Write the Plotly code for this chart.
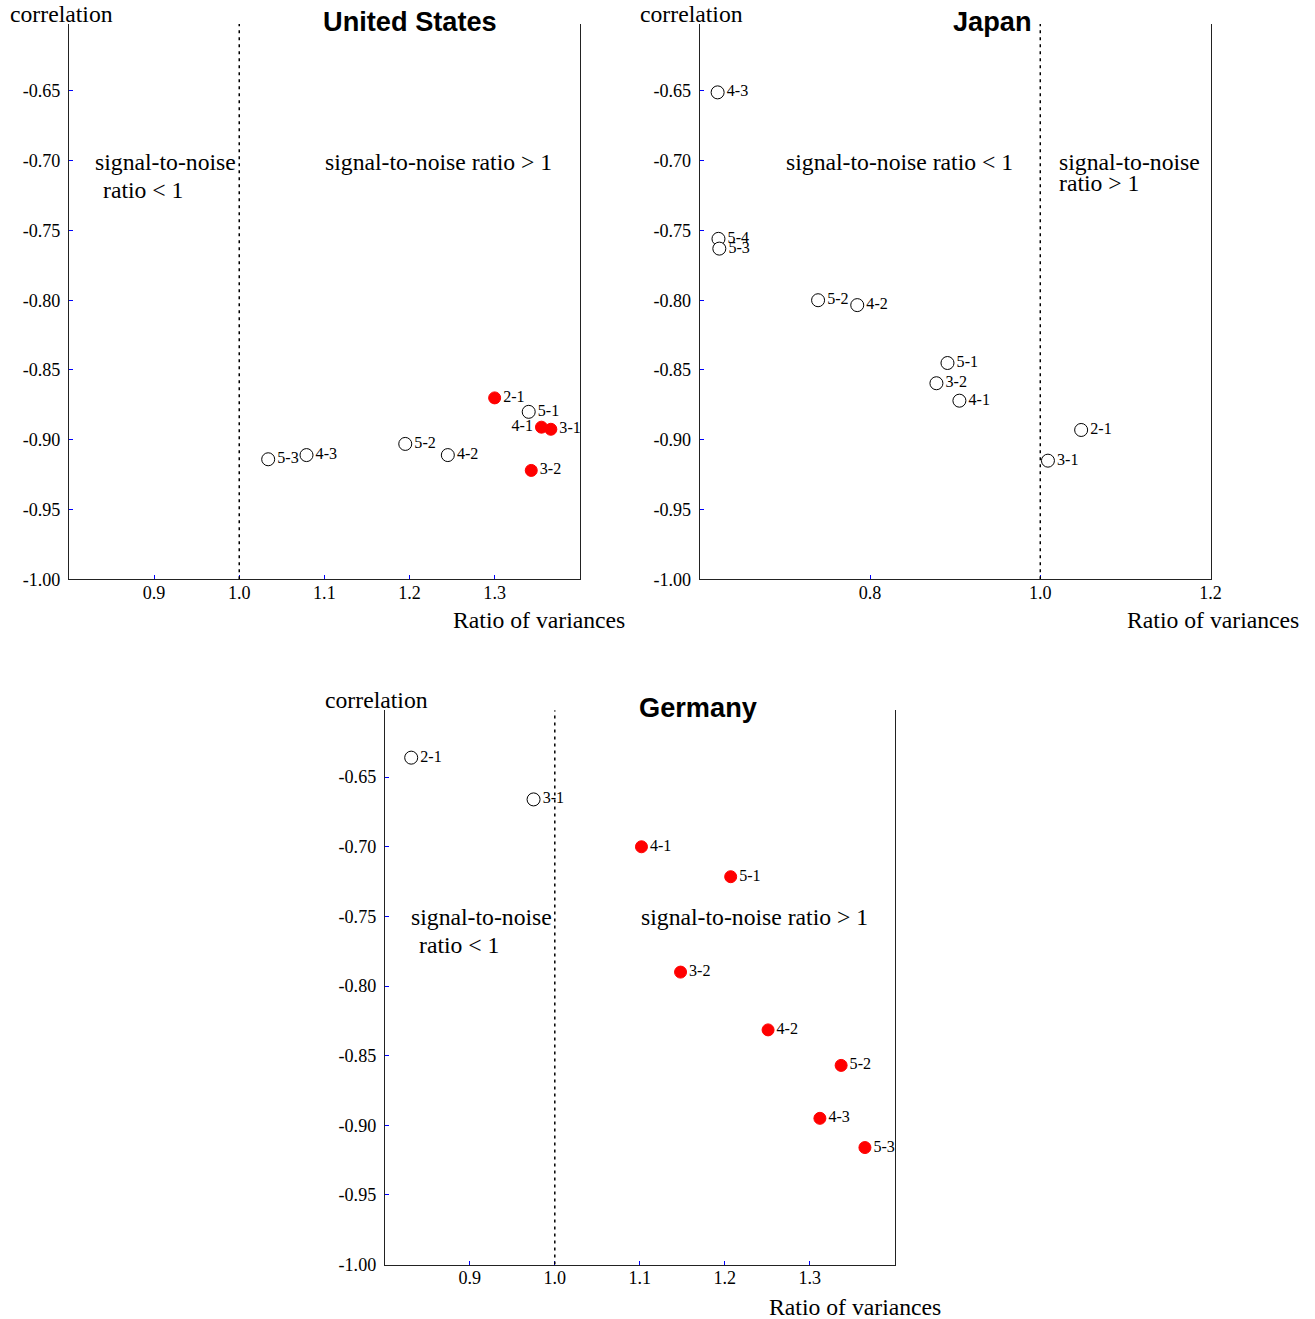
import plotly.graph_objects as go

W, H = 1315, 1319
K = 1 / 0.992  # compensates the slight shrink seen in the photographed page
SERIF = "Liberation Serif, Times New Roman, serif"
SANS = "Liberation Sans, Arial, sans-serif"

# ---- data ----
us_labels = ["2-1", "5-1", "4-1", "3-1", "5-2", "4-2", "5-3", "4-3", "3-2"]
us_ratio = [1.300, 1.340, 1.355, 1.366, 1.195, 1.245, 1.034, 1.079, 1.343]
us_corr = [-0.870, -0.880, -0.891, -0.8925, -0.903, -0.911, -0.914, -0.911, -0.922]
us_signif = [True, False, True, True, False, False, False, False, True]

jp_labels = ["4-3", "5-4", "5-3", "5-2", "4-2", "5-1", "3-2", "4-1", "2-1", "3-1"]
jp_ratio = [0.621, 0.622, 0.623, 0.739, 0.785, 0.891, 0.878, 0.905, 1.048, 1.009]
jp_corr = [-0.651, -0.756, -0.763, -0.800, -0.8035, -0.845, -0.8595, -0.872, -0.893, -0.915]
jp_signif = [False] * 10

de_labels = ["2-1", "3-1", "4-1", "5-1", "3-2", "4-2", "5-2", "4-3", "5-3"]
de_ratio = [0.831, 0.975, 1.102, 1.207, 1.148, 1.251, 1.337, 1.312, 1.365]
de_corr = [-0.636, -0.666, -0.700, -0.7215, -0.790, -0.8315, -0.857, -0.895, -0.916]
de_signif = [False, False, True, True, True, True, True, True, True]

y_ticks = [-1.00, -0.95, -0.90, -0.85, -0.80, -0.75, -0.70, -0.65]
y_ticktext = ["-1.00", "-0.95", "-0.90", "-0.85", "-0.80", "-0.75", "-0.70", "-0.65"]
x_ticks_us = [0.9, 1.0, 1.1, 1.2, 1.3]
x_ticks_jp = [0.8, 1.0, 1.2]

Y_RANGE = [-1.0, -0.602]

fig = go.Figure()


def px(x):
    return x * K / W


def py(y):
    return 1 - y * K / H


def fs(s):
    return round(s * K, 1)


def add_panel(labels, xs, ys, sig, xa, ya, left_labels=()):
    for flag in (False, True):
        idx = [i for i, s in enumerate(sig) if s == flag]
        if not idx:
            continue
        fig.add_trace(go.Scatter(
            x=[xs[i] for i in idx], y=[ys[i] for i in idx],
            text=[labels[i] for i in idx],
            textposition=["middle left" if labels[i] in left_labels else "middle right" for i in idx],
            mode="markers+text",
            marker=dict(
                size=12 if flag else 13,
                color="red" if flag else "white",
                line=dict(color="red" if flag else "black", width=1),
            ),
            textfont=dict(family=SERIF, size=fs(16), color="black"),
            xaxis=xa, yaxis=ya, showlegend=False, cliponaxis=False, hoverinfo="skip",
        ))


add_panel(us_labels, us_ratio, us_corr, us_signif, "x", "y", left_labels=("4-1",))
add_panel(jp_labels, jp_ratio, jp_corr, jp_signif, "x2", "y2")
add_panel(de_labels, de_ratio, de_corr, de_signif, "x3", "y3")

axis_common = dict(showgrid=False, zeroline=False, showline=True, linecolor="#222",
                   linewidth=1, ticks="inside", tickcolor="blue", ticklen=4,
                   tickfont=dict(family=SERIF, size=fs(18), color="black"))

fig.update_layout(
    width=W, height=H, margin=dict(l=0, r=0, t=0, b=0),
    paper_bgcolor="white", plot_bgcolor="white",
    xaxis=dict(domain=[px(69), px(580)], range=[0.8, 1.4], tickvals=x_ticks_us,
               ticktext=[f"{v:.1f}" for v in x_ticks_us], anchor="y",
               ticklabelstandoff=-3, **axis_common),
    yaxis=dict(domain=[py(579), py(24)], range=Y_RANGE, tickvals=y_ticks,
               ticktext=y_ticktext, anchor="x", mirror=True, ticklabelstandoff=4, **axis_common),
    xaxis2=dict(domain=[px(700), px(1211)], range=[0.6, 1.2], tickvals=x_ticks_jp,
                ticktext=[f"{v:.1f}" for v in x_ticks_jp], anchor="y2",
                ticklabelstandoff=-3, **axis_common),
    yaxis2=dict(domain=[py(579), py(24)], range=Y_RANGE, tickvals=y_ticks,
                ticktext=y_ticktext, anchor="x2", mirror=True, ticklabelstandoff=4, **axis_common),
    xaxis3=dict(domain=[px(385), px(895)], range=[0.8, 1.4], tickvals=x_ticks_us,
                ticktext=[f"{v:.1f}" for v in x_ticks_us], anchor="y3",
                ticklabelstandoff=-3, **axis_common),
    yaxis3=dict(domain=[py(1264), py(710)], range=Y_RANGE, tickvals=y_ticks,
                ticktext=y_ticktext, anchor="x3", mirror=True, ticklabelstandoff=4, **axis_common),
)

# dotted reference line at ratio = 1
for xr, yr in (("x", "y"), ("x2", "y2"), ("x3", "y3")):
    fig.add_shape(type="line", xref=xr, yref=yr, x0=1.0, x1=1.0, y0=Y_RANGE[0], y1=Y_RANGE[1],
                  line=dict(color="black", width=1.5, dash="3px,4px"))

annots = []


def txt(text, x, y, size, family=SERIF, anchor="left", bold=False):
    annots.append(dict(text=f"<b>{text}</b>" if bold else text, x=px(x), y=py(y),
                       xref="paper", yref="paper", xanchor=anchor, yanchor="middle",
                       showarrow=False, font=dict(family=family, size=fs(size), color="black")))


# axis titles
for (cx, cy) in ((8, 14), (638, 14), (323, 700)):
    txt("correlation", cx, cy, 23.5)
for (rx, ry) in ((451, 620), (1125, 620), (767, 1306)):
    txt("Ratio of variances", rx, ry, 23.5)

# panel titles
txt("United States", 410, 21, 27, family=SANS, anchor="center", bold=True)
txt("Japan", 993, 21, 27, family=SANS, anchor="center", bold=True)
txt("Germany", 698, 707, 27, family=SANS, anchor="center", bold=True)

# region notes
txt("signal-to-noise", 93, 162, 23.5)
txt("ratio &lt; 1", 101, 190, 23.5)
txt("signal-to-noise ratio &gt; 1", 323, 162, 23.5)
txt("signal-to-noise ratio &lt; 1", 784, 162, 23.5)
txt("signal-to-noise", 1057, 162, 23.5)
txt("ratio &gt; 1", 1057, 183, 23.5)
txt("signal-to-noise", 409, 917, 23.5)
txt("ratio &lt; 1", 417, 945, 23.5)
txt("signal-to-noise ratio &gt; 1", 639, 917, 23.5)

fig.update_layout(annotations=annots)
fig.write_html(
    "out.html",
    config={"displayModeBar": False},
    post_script="document.body.style.margin='0';document.body.style.overflow='hidden';"
                "document.documentElement.style.overflow='hidden';",
)
